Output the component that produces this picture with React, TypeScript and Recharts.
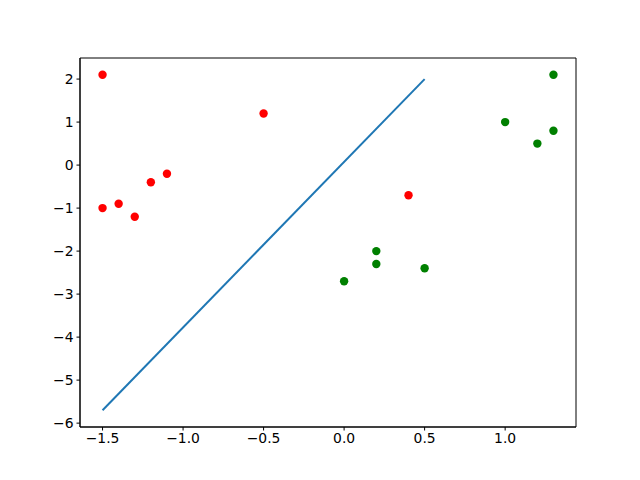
import { ComposedChart, Scatter, Line, XAxis, YAxis, ReferenceArea } from 'recharts'

const redX = [-1.5, -0.5, -1.1, -1.2, -1.4, -1.5, -1.3, 0.4]
const redY = [2.1, 1.2, -0.2, -0.4, -0.9, -1.0, -1.2, -0.7]
const greenX = [1.3, 1.0, 1.2, 1.3, 0.2, 0.2, 0.5, 0.0]
const greenY = [2.1, 1.0, 0.5, 0.8, -2.0, -2.3, -2.4, -2.7]
const lineX = [-1.5, 0.5]
const lineY = [-5.7, 2.0]
const xTicks = [-1.5, -1.0, -0.5, 0.0, 0.5, 1.0]
const yTicks = [-6, -5, -4, -3, -2, -1, 0, 1, 2]

const red = redX.map((x, i) => ({ x, y: redY[i] }))
const green = greenX.map((x, i) => ({ x, y: greenY[i] }))
const line = lineX.map((x, i) => ({ x, y: lineY[i] }))

const X_DOMAIN: [number, number] = [-1.64, 1.44]
const Y_DOMAIN: [number, number] = [-6.09, 2.49]

const minus = (s: string) => s.replace('-', '\u2212')
const fmtX = (v: number) => minus(v.toFixed(1))
const fmtY = (v: number) => minus(String(v))

const tickStyle = { fill: '#000', fontSize: 13.9, fontFamily: 'DejaVu Sans' }

const dot = (color: string) => (props: any) => (
  <circle cx={props.cx} cy={props.cy} r={4.2} fill={color} />
)

const App = () => {
  return (
    <div style={{ position: 'absolute', left: 0, top: 0, background: '#fff' }}>
      <ComposedChart width={640} height={480} margin={{ top: 58, right: 64, bottom: 23, left: 40 }}>
        <XAxis
          type="number"
          dataKey="x"
          domain={X_DOMAIN}
          ticks={xTicks}
          tickFormatter={fmtX}
          allowDataOverflow
          height={30}
          axisLine={{ stroke: '#000' }}
          tickLine={{ stroke: '#000' }}
          tickSize={3.5}
          tick={tickStyle}
          tickMargin={3}
        />
        <YAxis
          type="number"
          dataKey="y"
          domain={Y_DOMAIN}
          ticks={yTicks}
          tickFormatter={fmtY}
          allowDataOverflow
          width={40}
          axisLine={{ stroke: '#000' }}
          tickLine={{ stroke: '#000' }}
          tickSize={3.5}
          tick={tickStyle}
          tickMargin={3}
        />
        <ReferenceArea
          x1={X_DOMAIN[0]}
          x2={X_DOMAIN[1]}
          y1={Y_DOMAIN[0]}
          y2={Y_DOMAIN[1]}
          fill="none"
          fillOpacity={0}
          stroke="#000"
          strokeWidth={1}
        />
        <Line
          data={line}
          dataKey="y"
          type="linear"
          stroke="#1f77b4"
          strokeWidth={2}
          dot={false}
          isAnimationActive={false}
        />
        <Scatter data={red} dataKey="y" shape={dot('#ff0000')} isAnimationActive={false} />
        <Scatter data={green} dataKey="y" shape={dot('#008000')} isAnimationActive={false} />
      </ComposedChart>
    </div>
  )
}

export default App
